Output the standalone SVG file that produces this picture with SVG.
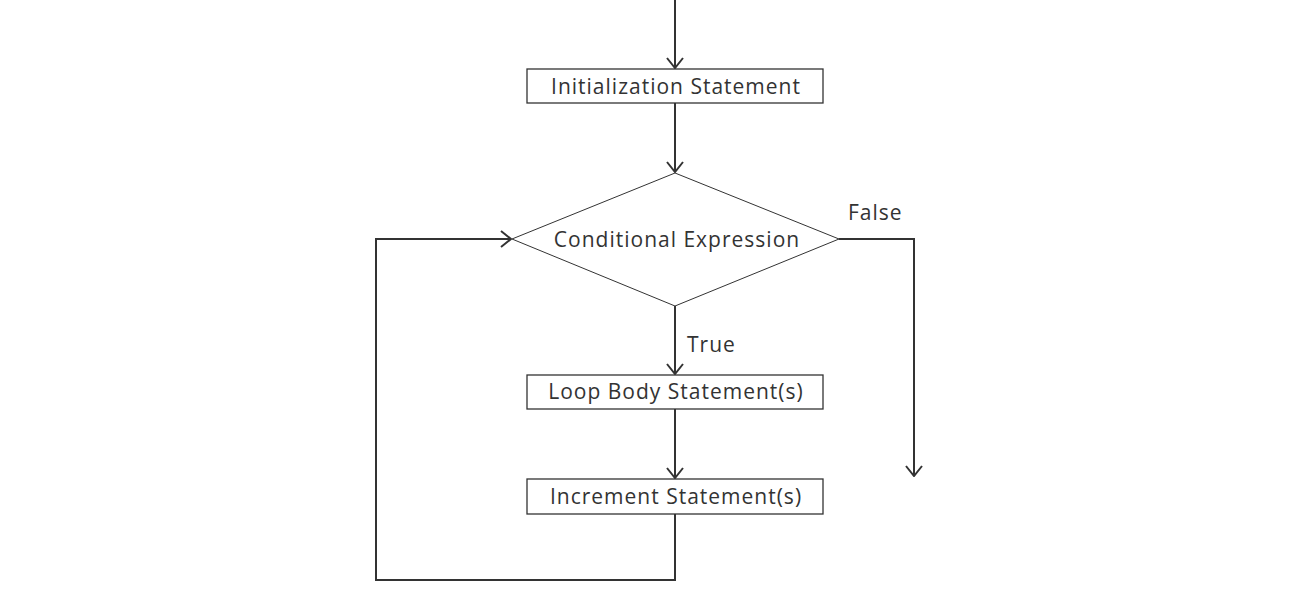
<svg xmlns="http://www.w3.org/2000/svg" width="1294" height="602" viewBox="0 0 1294 602">
<defs>
<marker id="arr" viewBox="0 0 12 18" refX="11" refY="9" markerWidth="12" markerHeight="18" markerUnits="userSpaceOnUse" orient="auto">
<path d="M1,1 L11,9 L1,17" fill="none" stroke="#333" stroke-width="2"/>
</marker>
<style>
.box{fill:#fff;stroke:#333;stroke-width:1.3}
.dia{fill:#fff;stroke:#333;stroke-width:1}
.ln{fill:none;stroke:#333;stroke-width:2}
.t{font-family:"Open Sans","Liberation Sans",sans-serif;font-size:21px;letter-spacing:1px;fill:#333;text-anchor:middle;dominant-baseline:central}
.lab{font-family:"Open Sans","Liberation Sans",sans-serif;font-size:21px;letter-spacing:1px;fill:#333}
</style>
</defs>
<rect width="1294" height="602" fill="#fff"/>
<g id="connectors">
<path class="ln" d="M675,0 L675,68" marker-end="url(#arr)"/>
<path class="ln" d="M675,103 L675,172" marker-end="url(#arr)"/>
<path class="ln" d="M675,306 L675,374" marker-end="url(#arr)"/>
<path class="ln" d="M675,409 L675,478" marker-end="url(#arr)"/>
<path class="ln" d="M675,514 L675,580 L376,580 L376,239 L511,239" marker-end="url(#arr)"/>
<path class="ln" d="M839,239 L914,239 L914,476" marker-end="url(#arr)"/>
<text class="lab" x="848" y="220">False</text>
<text class="lab" x="687" y="352">True</text>
</g>
<g id="init">
<rect class="box" x="527" y="69" width="296" height="34"/>
<text class="t" x="676" y="86">Initialization Statement</text>
</g>
<g id="cond">
<polygon class="dia" points="675,173 839,239 675,306 512,239"/>
<text class="t" x="677" y="239">Conditional Expression</text>
</g>
<g id="body">
<rect class="box" x="527" y="375" width="296" height="34"/>
<text class="t" x="676" y="391">Loop Body Statement(s)</text>
</g>
<g id="incr">
<rect class="box" x="527" y="479" width="296" height="35"/>
<text class="t" x="676" y="496">Increment Statement(s)</text>
</g>
</svg>
